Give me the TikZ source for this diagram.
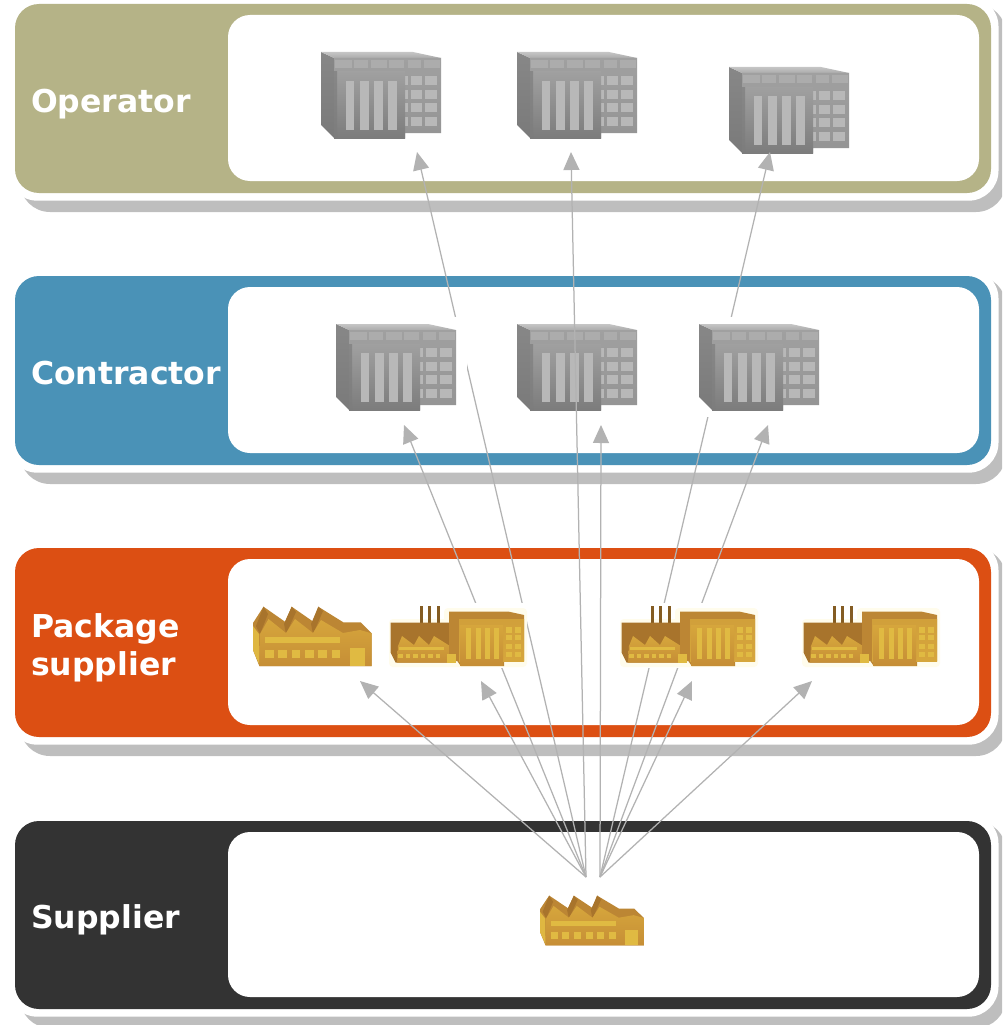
\documentclass[tikz,border=0pt]{standalone}
\usepackage{fontspec}
\setmainfont{DejaVu Sans}
\usetikzlibrary{arrows.meta}
\definecolor{bandolive}{HTML}{B5B387}
\definecolor{bandblue}{HTML}{4A92B7}
\definecolor{bandorange}{HTML}{DC4F13}
\definecolor{banddark}{HTML}{333333}
\definecolor{shadowgray}{HTML}{BEBEBE}
\definecolor{linkgray}{HTML}{B2B2B2}
\definecolor{fbrown}{HTML}{BC8634}
\definecolor{fdark}{HTML}{A8742C}
\definecolor{fgold}{HTML}{D6A63C}
\definecolor{fgoldb}{HTML}{C68E36}
\definecolor{flight}{HTML}{E0BA42}
\definecolor{fhalo}{HTML}{FFFCEC}
\definecolor{bface}{HTML}{A0A0A0}
\definecolor{bfaceb}{HTML}{949494}
\definecolor{bfront}{HTML}{A0A0A0}
\definecolor{bfrontb}{HTML}{7C7C7C}
\definecolor{bside}{HTML}{7A7A7A}
\definecolor{bwin}{HTML}{B8B8B8}
\definecolor{broof}{HTML}{ACACAC}
\tikzset{
  x=1pt,y=-1pt,
  link/.style={draw=linkgray,line width=1.25pt,-{Triangle[length=18pt,width=16pt]}},
  bandlabel/.style={text=white,font=\fontsize{31.5}{38}\selectfont\bfseries,inner sep=0pt,anchor=base west,align=left},
  pics/band/.style n args={3}{code={
    \fill[shadowgray,rounded corners=30] (20,#1) rectangle (1006,#2+19);
    \fill[white,rounded corners=30] (7.5,#1-7.5) rectangle (998.5,#2+7.7);
    \fill[#3,rounded corners=24] (15,#1) rectangle (991,#2);
    \fill[white,rounded corners=22] (228,#1+11) rectangle (979,#2-12);
  }},
  pics/building/.style={code={
    \shade[top color=bside!90,bottom color=bside] (0,0) -- (13,6) -- (13,86) -- (0,73) -- cycle;
    \shade[top color=broof!70,bottom color=broof] (0,0) -- (92,0) -- (120,6) -- (13,6) -- cycle;
    \shade[top color=bface,bottom color=bfaceb] (13,6) -- (120,6) -- (120,81) -- (84,81) -- (84,86) -- (13,86) -- cycle;
    \foreach \xa/\xb in {14/31,33/47,50/66,68/83,87/100,103/119}
      \fill[broof] (\xa,8) rectangle (\xb,16);
    \foreach \ya/\yb in {24/33,38/47,51/60,65/74}{
      \fill[bwin] (90,\ya) rectangle (101,\yb);
      \fill[bwin] (104,\ya) rectangle (116,\yb);
      \fill[bwin] (84,\ya) rectangle (87,\yb);
    }
    \shade[top color=bfront,bottom color=bfrontb] (13,20) rectangle (84,86);
    \shade[top color=bside!90,bottom color=bfrontb] (13,20) rectangle (16,86);
    \foreach \xa/\xb in {25/33,39/48,53/62,67/76}
      \fill[bwin] (\xa,29) rectangle (\xb,78);
  }},
  pics/factoryA/.style={code={
    \fill[fbrown] (0,17) -- (10.5,0.7) -- (32,15.7) -- (38.7,0.7) -- (60.3,15.7) -- (65.3,0.7) -- (90.3,16.3) -- (107.7,16.3) -- (118.7,27.3) -- (118.7,60) -- (6.3,60) -- (0,44) -- cycle;
    \fill[fdark] (10.5,0.7) -- (3,20) -- (7,28) -- (15,8) -- cycle;
    \fill[fdark] (38.7,0.7) -- (31,18) -- (33,28) -- (43,6) -- cycle;
    \fill[fdark] (65.3,0.7) -- (58,18) -- (60,28) -- (70,5) -- cycle;
    \shade[top color=fgold,bottom color=fgoldb] (7,28) -- (15.5,13) -- (33,27) -- (42,13) -- (60,27) -- (68,14) -- (90,27) -- (107,24) -- (118.7,27.3) -- (118.7,60) -- (6.3,60) -- cycle;
    \fill[flight!85!fgold] (0,20) -- (6,28) -- (6,58) -- (0,44) -- cycle;
    \fill[flight] (12,31) rectangle (87,37);
    \foreach \xa in {12,25,38.5,52,65,78.5}
      \fill[flight] (\xa,44) rectangle (\xa+8.5,52);
    \fill[flight] (97,42) rectangle (112,60);
  }},
  pics/factoryB/.style={code={
    \foreach \xa in {30,38,46.7}
      \fill[fdark!70!black!80!fbrown] (\xa,1) rectangle (\xa+3.4,18);
    \fill[fdark] (0.7,17.7) -- (62.3,17.7) -- (62.3,57.7) -- (5.7,57.7) -- (0.7,47.7) -- cycle;
    \shade[top color=fgold,bottom color=fgoldb] (8,41) -- (12,31) -- (24,40) -- (29,31) -- (39,40) -- (44,31) -- (60,41) -- (60,57.7) -- (7,57.7) -- cycle;
    \fill[flight] (9,42) rectangle (54,45);
    \foreach \xa in {8,15.5,23,30.5,38,45.5}
      \fill[flight] (\xa,49) rectangle (\xa+4.5,53);
    \fill[fbrown] (59,6.7) -- (119,6.7) -- (134,10) -- (134,56) -- (114,56) -- (114,61) -- (70.7,61) -- (67.3,56) -- (59,56) -- cycle;
    \shade[top color=fgold!80!fbrown,bottom color=fgold] (69,14) -- (134,14) -- (134,56) -- (69,56) -- cycle;
    \shade[top color=fgold,bottom color=fgoldb] (70,20) rectangle (113,60);
    \foreach \xa in {76,86,95,104}
      \fill[flight] (\xa,23) rectangle (\xa+5,54);
    \foreach \ya/\yb in {22/28,30/35,39/44,47/52}{
      \fill[flight] (116,\ya) rectangle (122,\yb);
      \fill[flight] (125,\ya) rectangle (131,\yb);
    }
    \fill[flight] (57,49) rectangle (66,58);
  }},
  pics/maskB/.style={code={
    \fill[white] (-1,-2) rectangle (137,63);
    \fill[fhalo,rounded corners=4] (-1,14) rectangle (137,62);
    \fill[fhalo,rounded corners=4] (54,3) rectangle (137,20);
  }},
  pics/maskC/.style={code={\fill[white] (-8,-7) rectangle (131,93);}},
}
\begin{document}
\begin{tikzpicture}
\useasboundingbox (0,0) rectangle (1002,1025);
\clip (0,0) rectangle (1002,1025);
% bands
\pic {band={4}{193}{bandolive}};
\pic {band={276}{465}{bandblue}};
\pic {band={548}{737}{bandorange}};
\pic {band={821}{1009}{banddark}};
% labels
\node[bandlabel] (lop) at (31,112) {Operator};
\node[bandlabel] (lco) at (31,384) {Contractor};
\node[bandlabel] (lpa) at (31,637) {Package};
\node[bandlabel] (lsu) at (31,675) {supplier};
\node[bandlabel] (lsp) at (31,928) {Supplier};
% operator icons lie under the arrow tips
\pic at (321,52) {building};
\pic at (517,52) {building};
\pic at (729,67) {building};
% connector ends
\coordinate (s1) at (586,877);
\coordinate (s2) at (600,877);
\coordinate (pA) at (360,681);
\coordinate (pB) at (481,681);
\coordinate (pC) at (692,681);
\coordinate (pD) at (812,681);
\coordinate (c1) at (404,425);
\coordinate (c2) at (601,425);
\coordinate (c3) at (768,425);
\coordinate (o1) at (417,152);
\coordinate (o2) at (571,152);
\coordinate (o3) at (770,152);
% connectors behind the other icons
\draw[link] (s1) -- (pA);
\draw[link] (s1) -- (pB);
\draw[link] (s1) -- (c1);
\draw[link] (s1) -- (o1);
\draw[link] (s2) -- (c2);
\draw[link] (s2) -- (c3);
\draw[link] (s2) -- (o3);
\draw[link] (s2) -- (pC);
\draw[link] (s2) -- (pD);
% white patches of the icon images
\pic at (336,324) {maskC};
\pic at (699,324) {maskC};
\pic at (390,605) {maskB};
\pic at (621,605) {maskB};
\pic at (803,605) {maskB};
% icons
\pic at (336,324) {building};
\pic at (517,324) {building};
\pic at (699,324) {building};
\pic at (253,606) {factoryA};
\pic at (390,605) {factoryB};
\pic at (621,605) {factoryB};
\pic at (803,605) {factoryB};
\pic[xscale=.875,yscale=.84] at (540,895) {factoryA};
% connector over the middle building
\draw[link] (s1) -- (o2);
\end{tikzpicture}
\end{document}
